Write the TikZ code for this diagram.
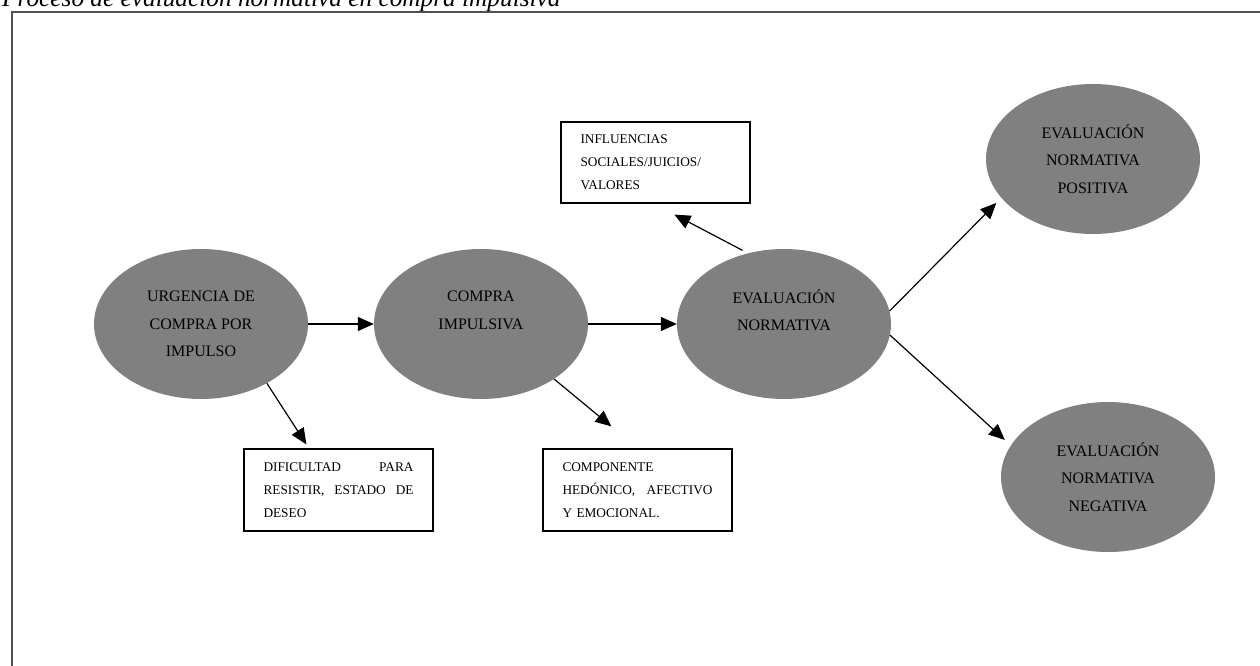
\documentclass[tikz,border=0pt]{standalone}
\usepackage{fontspec}
\setmainfont{Liberation Serif}
\usetikzlibrary{shapes.geometric,arrows.meta,calc}
\definecolor{ellgray}{HTML}{808080}
\definecolor{framegray}{HTML}{505050}
\begin{document}
\begin{tikzpicture}[x=1pt,y=-1pt,
  ell/.style={ellipse, fill=ellgray, minimum width=214pt, minimum height=150pt, inner sep=0pt, align=center, font=\fontsize{16}{27.5}\selectfont},
  txtbox/.style={draw=black, line width=1.2pt, text width=150pt, inner xsep=19.5pt, inner ysep=0pt, minimum height=82pt, align=left, font=\fontsize{13.3}{23}\selectfont},
  arr/.style={draw=black, line width=1.2pt, -{Triangle[length=16pt,width=14pt]}}]
\useasboundingbox (0,0) rectangle (1260,666);
\node[anchor=base west, inner sep=0pt, font=\fontsize{25.3}{30}\selectfont\itshape] (title) at (2,7) {Proceso de evaluación normativa en compra impulsiva};
\draw[framegray, line width=2.2pt] (12,12) rectangle (1290,700);
\node[ell] (e1) at (201,324) {URGENCIA DE\\COMPRA POR\\IMPULSO};
\node[ell] (e2) at (481,324) {COMPRA\\IMPULSIVA\\\mbox{}};
\node[ell] (e3) at (784,324) {EVALUACIÓN\\NORMATIVA\\\mbox{}};
\node[ell] (e4) at (1093,159) {EVALUACIÓN\\NORMATIVA\\POSITIVA};
\node[ell] (e5) at (1108,477) {EVALUACIÓN\\NORMATIVA\\NEGATIVA};
\node[txtbox] (box1) at (338.5,490) {DIFICULTAD\hfill PARA\\RESISTIR,\hfill ESTADO\hfill DE\\DESEO};
\node[txtbox] (box2) at (637.5,490) {COMPONENTE\\HEDÓNICO,\hfill AFECTIVO\\Y EMOCIONAL.};
\node[txtbox, minimum height=81pt] (box3) at (655.5,162.5) {INFLUENCIAS\\SOCIALES/JUICIOS/\\VALORES};
\draw[arr] (e1.east) -- (e2.west);
\draw[arr] (e2.east) -- (e3.west);
\draw[arr] (e1.-42.7) -- ($(box1.north west)+(63,-4)$);
\draw[arr] (e2.-37.1) -- ($(box2.north west)+(69,-22)$);
\draw[arr, shorten <=6pt] (e3.117.7) -- ($(box3.south west)+(114,11)$);
\draw[arr, shorten >=7pt] (e3.7) -- (e4.203.7);
\draw[arr, shorten >=8pt] (e3.-6) -- (e5.162.1);
\end{tikzpicture}
\end{document}
